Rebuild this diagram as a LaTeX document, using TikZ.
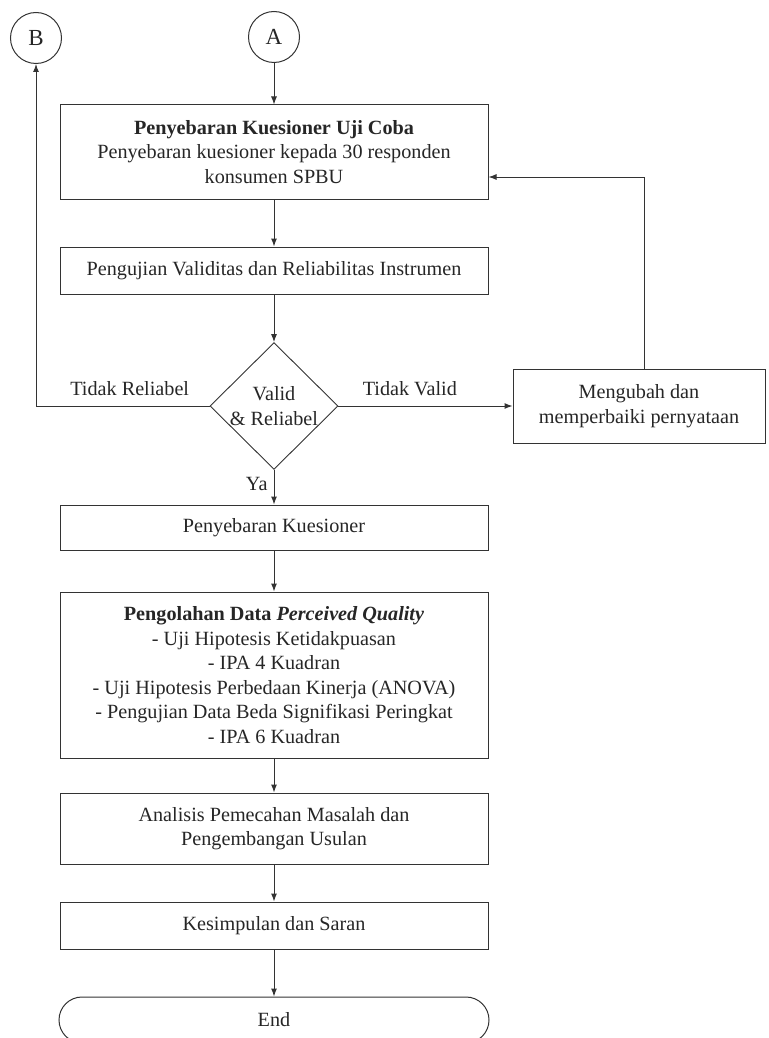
\documentclass[tikz,border=0pt]{standalone}
\usepackage{fontspec}
\setmainfont{Liberation Serif}
\usetikzlibrary{shapes.geometric,arrows.meta}
\definecolor{ln}{HTML}{333333}
\tikzset{
  every node/.style={font=\fontsize{20.2}{24.5}\selectfont, text=black!85},
  box/.style={draw=ln, line width=1pt, rectangle, inner sep=0pt, minimum width=428pt, align=center},
  conn/.style={circle, draw=ln, line width=1pt, minimum size=51pt, inner sep=0pt, font=\fontsize{23}{26}\selectfont},
  dec/.style={diamond, draw=ln, line width=0.9pt, inner sep=0pt, minimum width=128pt, minimum height=126pt, align=center},
  endbox/.style={draw=ln, line width=1pt, rectangle, rounded corners=23pt, minimum width=430pt, minimum height=46pt, inner sep=0pt},
  arr/.style={draw=ln, line width=1pt, -{Latex[length=8pt,width=6pt]}},
  lbl/.style={inner sep=0pt}
}
\begin{document}
\begin{tikzpicture}[x=1pt,y=-1pt]
\useasboundingbox (0,0) rectangle (768,1038);
\clip (0,0) rectangle (768,1038);
\node[conn] (B) at (36,38) {B};
\node[conn] (A) at (274,37) {A};
\node[box, minimum height=94pt] (b1) at (274,152) {\textbf{Penyebaran Kuesioner Uji Coba}\\Penyebaran kuesioner kepada 30 responden\\konsumen SPBU};
\node[box, minimum height=47pt] (b2) at (274,270.5) {Pengujian Validitas dan Reliabilitas Instrumen};
\node[dec] (d) at (274,406) {Valid\\\& Reliabel};
\node[draw=ln, line width=1pt, rectangle, inner sep=0pt, minimum width=252pt, minimum height=74pt, align=center] (b3) at (639,406) {Mengubah dan\\memperbaiki pernyataan};
\node[box, minimum height=45pt] (b4) at (274,527.5) {Penyebaran Kuesioner};
\node[box, minimum height=166pt] (b5) at (274,675) {\textbf{Pengolahan Data \textit{Perceived Quality}}\\- Uji Hipotesis Ketidakpuasan\\- IPA 4 Kuadran\\- Uji Hipotesis Perbedaan Kinerja (ANOVA)\\- Pengujian Data Beda Signifikasi Peringkat\\- IPA 6 Kuadran};
\node[box, minimum height=71pt] (b6) at (274,828.5) {Analisis Pemecahan Masalah dan\\Pengembangan Usulan};
\node[box, minimum height=47pt] (b7) at (274,925.5) {Kesimpulan dan Saran};
\node[endbox] (e) at (274,1020) {End};
\coordinate (fb) at (644,177);
\coordinate (bl) at (36,406);
\draw[arr] (A) -- (b1);
\draw[arr] (b1) -- (b2);
\draw[arr] (b2) -- (d);
\draw[arr] (d.east) -- node[lbl, above=10pt, pos=0.41] {Tidak Valid} (b3.west |- d.east);
\draw[arr] (b3.north -| fb) -- (fb) -- (b1.east |- fb);
\draw[arr] (d.west) -- node[lbl, above=10pt, pos=0.46] {Tidak Reliabel} (bl) -- (B);
\draw[arr] (d.south) -- node[lbl, left=6pt, pos=0.4] {Ya} (b4);
\draw[arr] (b4) -- (b5);
\draw[arr] (b5) -- (b6);
\draw[arr] (b6) -- (b7);
\draw[arr] (b7) -- (e);
\end{tikzpicture}
\end{document}
